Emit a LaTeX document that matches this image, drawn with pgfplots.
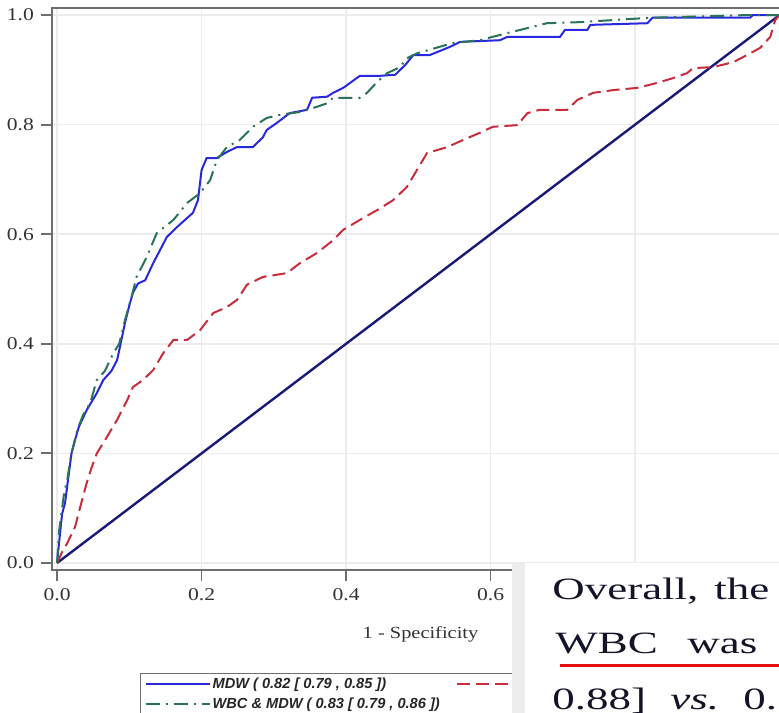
\documentclass[border=0pt]{standalone}
\usepackage{fontspec}
\setmainfont{Liberation Serif}
\newfontfamily\tickfont[FakeStretch=1.2]{Liberation Serif}
\newfontfamily\legfont{Liberation Sans}
\newfontfamily\panelfont[FakeStretch=1.45]{Liberation Serif}
\usepackage{pgfplots}
\pgfplotsset{compat=1.18}

\definecolor{mdwblue}{RGB}{40,40,225}
\definecolor{combgreen}{RGB}{40,115,90}
\definecolor{wbcred}{RGB}{200,45,60}
\definecolor{diagnavy}{RGB}{25,25,120}
\definecolor{spinegray}{RGB}{110,110,110}
\definecolor{gridgray}{RGB}{236,236,236}
\definecolor{labelgray}{RGB}{50,50,50}
\definecolor{inkblue}{RGB}{20,20,40}
\definecolor{uline}{RGB}{230,15,15}

% ROC curves (1 - specificity, sensitivity)
\pgfplotstableread{
fpr tpr
0 0
0.003 0.04
0.007 0.09
0.011 0.109
0.016 0.16
0.020 0.20
0.025 0.225
0.030 0.248
0.041 0.279
0.055 0.31
0.064 0.334
0.075 0.35
0.083 0.37
0.087 0.394
0.094 0.438
0.100 0.47
0.105 0.493
0.112 0.51
0.122 0.516
0.133 0.547
0.152 0.595
0.166 0.613
0.188 0.639
0.195 0.662
0.200 0.717
0.207 0.739
0.221 0.739
0.235 0.75
0.249 0.759
0.271 0.759
0.285 0.777
0.290 0.79
0.304 0.803
0.322 0.821
0.346 0.827
0.353 0.849
0.374 0.851
0.382 0.858
0.396 0.867
0.419 0.889
0.447 0.889
0.468 0.891
0.482 0.909
0.493 0.927
0.516 0.927
0.544 0.942
0.558 0.951
0.613 0.954
0.623 0.96
0.696 0.96
0.703 0.973
0.734 0.973
0.738 0.982
0.817 0.985
0.824 0.995
0.959 0.995
0.963 1.0
1 1
}\mdw

\pgfplotstableread{
fpr tpr
0 0
0.007 0.02
0.014 0.036
0.025 0.066
0.032 0.102
0.041 0.146
0.048 0.175
0.055 0.20
0.069 0.23
0.083 0.261
0.097 0.297
0.105 0.321
0.119 0.334
0.133 0.352
0.147 0.383
0.161 0.407
0.180 0.407
0.198 0.425
0.216 0.456
0.235 0.467
0.249 0.48
0.263 0.508
0.285 0.522
0.318 0.529
0.336 0.547
0.360 0.566
0.382 0.589
0.396 0.608
0.419 0.626
0.443 0.644
0.465 0.662
0.484 0.686
0.498 0.717
0.512 0.748
0.540 0.759
0.562 0.772
0.585 0.785
0.603 0.796
0.637 0.799
0.651 0.821
0.668 0.827
0.706 0.827
0.720 0.845
0.742 0.858
0.770 0.863
0.803 0.867
0.830 0.876
0.853 0.885
0.872 0.894
0.880 0.903
0.908 0.905
0.936 0.914
0.955 0.927
0.973 0.94
0.987 0.96
0.994 0.991
1 1
}\wbc

\pgfplotstableread{
fpr tpr
0 0
0.003 0.06
0.007 0.10
0.010 0.13
0.014 0.151
0.020 0.20
0.028 0.243
0.036 0.27
0.046 0.292
0.055 0.334
0.066 0.35
0.078 0.383
0.086 0.40
0.094 0.443
0.104 0.49
0.110 0.522
0.124 0.558
0.138 0.602
0.161 0.626
0.180 0.657
0.198 0.675
0.212 0.699
0.221 0.735
0.235 0.759
0.253 0.772
0.271 0.796
0.290 0.812
0.309 0.818
0.336 0.823
0.354 0.83
0.374 0.839
0.382 0.849
0.401 0.849
0.419 0.849
0.429 0.858
0.443 0.878
0.457 0.894
0.475 0.905
0.484 0.921
0.498 0.93
0.548 0.949
0.585 0.954
0.623 0.967
0.678 0.985
0.724 0.987
0.821 0.995
0.959 1.0
1 1
}\both

\begin{document}
\begin{tikzpicture}
\useasboundingbox (0,0) rectangle (389.5pt,356pt);
\clip (0,0) rectangle (389.5pt,356pt);
\begin{axis}[
  at={(26pt,71pt)}, anchor=south west,
  scale only axis, width=368.5pt, height=281pt,
  xmin=-0.007, xmax=1.013, ymin=-0.0128, ymax=1.0128,
  xtick={0,0.2,...,1.0}, ytick={0,0.2,...,1.0},
  xtick pos=bottom, ytick pos=left,
  /pgf/number format/assume math mode=true,
  /pgf/number format/.cd, fixed, fixed zerofill, precision=1, /pgfplots/.cd,
  tick align=outside, major tick length=5.5pt,
  tick style={spinegray, line width=0.9pt},
  axis line style={spinegray, line width=1pt},
  grid=major, major grid style={gridgray, line width=0.75pt},
  ticklabel style={font=\tickfont\fontsize{9}{10}\selectfont, text=labelgray},
  xlabel={1 - Specificity},
  xlabel style={at={(axis description cs:0.5,0)}, anchor=north, yshift=-28pt,
    inner sep=0pt, font=\tickfont\fontsize{8.5}{10}\selectfont, text=labelgray},
  legend columns=2,
  legend image code/.code={\draw[#1] (0pt,0pt) -- (32pt,0pt);},
  legend style={at={(axis description cs:0.1194,-0.1833)}, anchor=north west,
    draw=spinegray, line width=0.6pt, inner xsep=2pt, inner ysep=1pt,
    font=\legfont\bfseries\itshape\fontsize{7.3}{8}\selectfont, text=black!85,
    nodes={inner sep=1pt}, cells={anchor=west}, row sep=1.2pt,
    /tikz/every even column/.append style={column sep=7pt}},
]
\addplot[diagnavy, line width=1.2pt, forget plot] coordinates {(0,0) (1,1)};
\addplot[mdwblue, line width=1pt] table[x=fpr, y=tpr] {\mdw};
\addplot[wbcred, line width=1pt, dash pattern=on 6.5pt off 3pt] table[x=fpr, y=tpr] {\wbc};
\addplot[combgreen, line width=1pt, dash pattern=on 7pt off 3pt on 1pt off 3pt] table[x=fpr, y=tpr] {\both};
\legend{{MDW ( 0.82 [ 0.79 , 0.85 ])}, {WBC ( 0.68 [ 0.64 , 0.72 ])}, {WBC \& MDW ( 0.83 [ 0.79 , 0.86 ])}}
\end{axis}
% overlapping page fragment on the lower right
\begin{scope}[x=0.5pt, y=-0.5pt, shift={(0pt,356pt)}]
\fill[white] (512,563) rectangle (800,720);
\fill[black!7] (512,563) rectangle (525,720);
\tikzset{ptxt/.style={anchor=base west, inner sep=0pt, text=inkblue,
  font=\panelfont\fontsize{15.5}{19}\selectfont}}
\node[ptxt] at (552,599) {Overall,};
\node[ptxt] at (714,599) {the};
\node[ptxt] at (555,653) {WBC};
\node[ptxt] at (687,653) {was};
\draw[uline, line width=1.5pt] (560,665) -- (800,665);
\node[ptxt] at (552,709) {0.88]};
\node[ptxt] at (670,709) {\itshape vs.};
\node[ptxt] at (743,709) {0.};
\end{scope}
\end{tikzpicture}
\end{document}
